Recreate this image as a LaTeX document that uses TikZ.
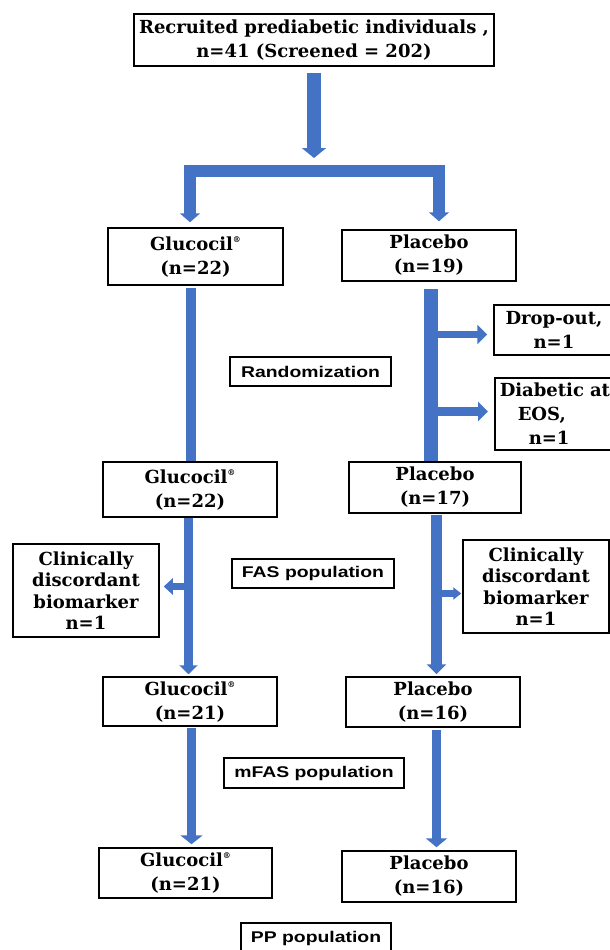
\documentclass[tikz,border=0pt]{standalone}
\usepackage{fontspec}
\newfontfamily\serfont{DejaVu Serif}
\newfontfamily\labfont{Liberation Sans}[FakeStretch=1.25]
\usetikzlibrary{arrows.meta,calc}
\definecolor{arrowblue}{HTML}{4472C4}
\begin{document}
\begin{tikzpicture}[x=1pt,y=-1pt,
  box/.style={draw=black, line width=1.5pt, fill=white, align=center, inner sep=0pt,
    font=\serfont\bfseries\fontsize{18}{24}\selectfont},
  tight/.style={font=\serfont\bfseries\fontsize{18}{21.5}\selectfont},
  lab/.style={draw=black, line width=1.5pt, fill=white, inner sep=0pt,
    font=\labfont\bfseries\fontsize{15.5}{18}\selectfont},
  flow/.style={draw=arrowblue, line width=#1, line cap=butt, line join=miter},
  tip/.style args={#1x#2}{-{Triangle[width=#1pt,length=#2pt]}}
]
\useasboundingbox (0,0) rectangle (610,950);
\clip (0,0) rectangle (610,950);
\newcommand{\reg}{\raisebox{8pt}{\fontsize{8}{8}\selectfont ®}}

% boxes
\node[box, minimum width=360, minimum height=52] (top) at (314,40)
  {Recruited prediabetic individuals ,\\ n=41 (Screened = 202)};
\node[box, minimum width=175, minimum height=57] (g1) at (195.5,256.5) {Glucocil\reg\\(n=22)};
\node[box, minimum width=174, minimum height=51] (p1) at (429,255.5) {Placebo\\(n=19)};
\node[box, minimum width=120, minimum height=50] (drop) at (554,330) {Drop-out,\\n=1};
\node[box, anchor=west, align=left, text width=140, inner xsep=5pt, minimum height=72] (diab) at (494,414)
  {Diabetic at\\\hspace*{18pt}EOS,\\\hspace*{29pt}n=1};
\node[lab, minimum width=161, minimum height=29] (rand) at (310.5,371.5) {Randomization};
\node[box, minimum width=174, minimum height=55] (g2) at (190,489.5) {Glucocil\reg\\(n=22)};
\node[box, minimum width=172, minimum height=51] (p2) at (435,487.5) {Placebo\\(n=17)};
\node[box, tight, minimum width=146, minimum height=93] (cl) at (86,590.5) {Clinically\\discordant\\biomarker\\n=1};
\node[box, tight, minimum width=146, minimum height=93] (cr) at (536,586.5) {Clinically\\discordant\\biomarker\\n=1};
\node[lab, minimum width=162, minimum height=29] (fas) at (313,573.5) {FAS population};
\node[box, minimum width=174, minimum height=49] (g3) at (190,701.5) {Glucocil\reg\\(n=21)};
\node[box, minimum width=174, minimum height=50] (p3) at (433,702) {Placebo\\(n=16)};
\node[lab, minimum width=180, minimum height=30] (mfas) at (314,773) {mFAS population};
\node[box, minimum width=173, minimum height=50] (g4) at (185.5,873) {Glucocil\reg\\(n=21)};
\node[box, minimum width=174, minimum height=51] (p4) at (429,876.5) {Placebo\\(n=16)};
\node[lab, minimum width=150, minimum height=30] (pp) at (316,938) {PP population};

% top arrow and fork
\coordinate (fork) at (314,170.5);
\draw[flow=14, tip=24x10] ($(top.south)+(0,6)$) -- ($(fork)+(0,-12.5)$);
\draw[flow=12, tip=20x9] (fork) -| ($(g1.north)+(-5.5,-5)$);
\draw[flow=12, tip=20x9] (fork) -| ($(p1.north)+(10,-8)$);

% left column
\draw[flow=10] ($(g1.south)+(-4.5,2)$) -- ($(g2.north)+(1,0)$);
\draw[flow=9, tip=18x9] ($(g2.south)+(-1.5,0)$) -- ($(g3.north)+(-1.5,-2)$);
\draw[flow=9, tip=22x9] ($(g3.south)+(1.5,1)$) -- ($(g4.north)+(6,-3)$);

% right column
\draw[flow=14] ($(p1.south)+(2,7)$) -- ($(p2.north)+(-4,0)$);
\draw[flow=11, tip=19x10] ($(p2.south)+(1.5,1)$) -- ($(p3.north)+(3.5,-2)$);
\draw[flow=9, tip=21x9] ($(p3.south)+(3.5,2)$) -- ($(p4.north)+(7.5,-3)$);

% side arrows
\coordinate (sd) at (438,334.5);
\coordinate (sdb) at (438,411.5);
\coordinate (sl) at (193,586.5);
\coordinate (sr) at (433,593.5);
\draw[flow=7, tip=19x10] (sd) -- ($(drop.west)+(-6,4.5)$);
\draw[flow=9, tip=19x10] (sdb) -- ($(diab.west)+(-6,-2.5)$);
\draw[flow=7, tip=16x9] (sl) -- ($(cl.east)+(4,-4)$);
\draw[flow=7, tip=12x8] (sr) -- ($(cr.west)+(-1,7)$);
\end{tikzpicture}
\end{document}
